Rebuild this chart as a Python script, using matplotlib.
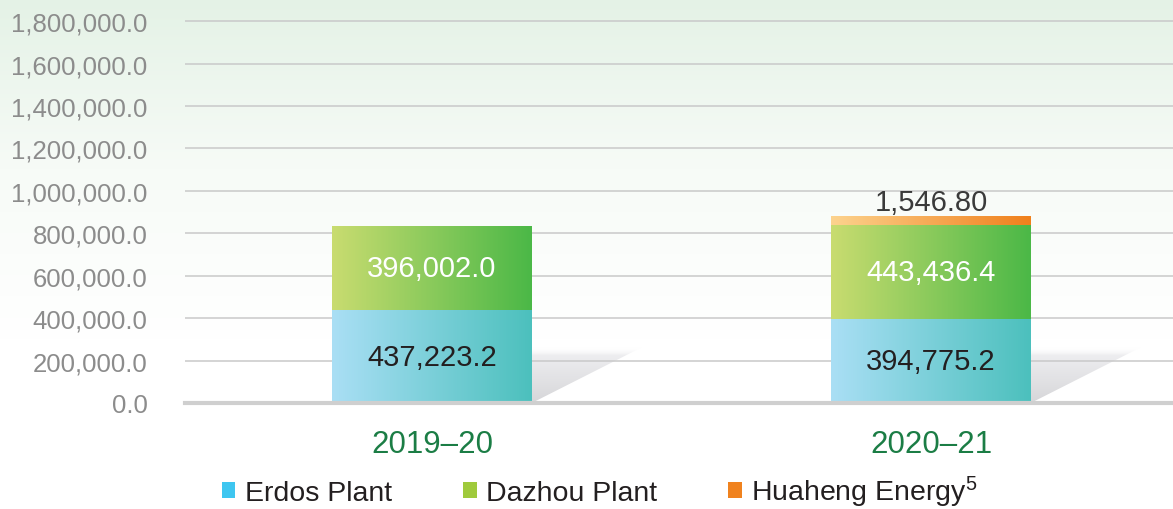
import numpy as np
import matplotlib
matplotlib.use("Agg")
import matplotlib.pyplot as plt
from matplotlib.patches import Patch, Polygon
from matplotlib.colors import LinearSegmentedColormap

plt.rcParams['font.family'] = ['Liberation Sans', 'DejaVu Sans']
plt.rcParams['mathtext.fontset'] = 'custom'
plt.rcParams['mathtext.rm'] = 'Liberation Sans'
plt.rcParams['mathtext.it'] = 'Liberation Sans'

# data
years = ["2019–20", "2020–21"]
erdos = [437223.2, 394775.2]
dazhou = [396002.0, 443436.4]
huaheng = [0.0, 1546.80]
series_names = ["Erdos Plant", "Dazhou Plant", "Huaheng Energy$^5$"]
yticks = [0, 200000, 400000, 600000, 800000, 1000000, 1200000, 1400000, 1600000, 1800000]

# the tiny Huaheng slice is drawn with a minimum height so it stays visible (as in the original)
min_visible = 42000

grad_erdos = LinearSegmentedColormap.from_list("e", ["#aadff5", "#4cc0bd"])
grad_dazhou = LinearSegmentedColormap.from_list("d", ["#c9dc70", "#4bb847"])
grad_huaheng = LinearSegmentedColormap.from_list("h", ["#fdd38e", "#f0801c"])
legend_cols = ["#3ec6f0", "#9fca3c", "#f0821e"]

fig = plt.figure(figsize=(11.73, 5.10), dpi=100)

# background gradient: pale green at the top fading to white
bg = fig.add_axes([0, 0, 1, 1], zorder=-10)
g = np.linspace(0, 1, 256).reshape(-1, 1)
bgcmap = LinearSegmentedColormap.from_list("bg", ["#ffffff", "#ffffff", "#f7fbf7", "#e4f2e6"])
bg.imshow(g, cmap=bgcmap, aspect='auto', extent=[0, 1, 0, 1], origin='lower')
bg.axis('off')

ax = fig.add_axes([185 / 1173, 1 - 404 / 510, 1 - 185 / 1173, 403 / 510])
ax.patch.set_alpha(0)
x = np.arange(len(years))
width = 0.4

hgrad = np.linspace(0, 1, 256).reshape(1, -1)


def grad_bars(xs, heights, bottoms, cmap):
    bars = ax.bar(xs, heights, width, bottom=bottoms, color='none', zorder=3)
    for b in bars:
        if b.get_height() <= 0:
            continue
        x0, y0 = b.get_x(), b.get_y()
        im = ax.imshow(hgrad, cmap=cmap, aspect='auto', zorder=3,
                       extent=[x0, x0 + b.get_width(), y0, y0 + b.get_height()])
        im.set_clip_path(b)
    return bars


# shadows behind bars
shadow_cmap = LinearSegmentedColormap.from_list(
    "s", [(0, (0.84, 0.84, 0.85, 1)), (0.85, (0.93, 0.93, 0.94, 1)), (1, (1, 1, 1, 0))])
sh_w, sh_h = 0.22, 262000
for xi in x:
    r = xi + width / 2
    poly = Polygon([(r, 0), (r + sh_w, sh_h), (r, sh_h)], closed=True,
                   facecolor='none', edgecolor='none')
    ax.add_patch(poly)
    im = ax.imshow(np.linspace(0, 1, 256).reshape(-1, 1), cmap=shadow_cmap, aspect='auto',
                   origin='lower', extent=[r, r + sh_w, 0, sh_h], zorder=0.5)
    im.set_clip_path(poly)

huaheng_draw = [max(v, min_visible) if v > 0 else 0 for v in huaheng]
bottom2 = [a + b for a, b in zip(erdos, dazhou)]
grad_bars(x, erdos, 0, grad_erdos)
grad_bars(x, dazhou, erdos, grad_dazhou)
grad_bars(x, huaheng_draw, bottom2, grad_huaheng)
ax.set_xlim(-0.495, 1.485)
ax.set_ylim(0, 1900000)

for i in range(len(years)):
    ax.text(x[i], erdos[i] / 2, f"{erdos[i]:,.1f}", ha='center', va='center',
            fontsize=21, color='#231f20', zorder=5)
    ax.text(x[i], erdos[i] + dazhou[i] / 2, f"{dazhou[i]:,.1f}", ha='center', va='center',
            fontsize=21, color='white', zorder=5)
    if huaheng[i] > 0:
        ax.text(x[i], bottom2[i] + huaheng_draw[i], f"{huaheng[i]:,.2f}", ha='center',
                va='bottom', fontsize=21, color='#3a3a3a', zorder=5)

ax.set_yticks(yticks)
ax.set_yticklabels([f"{t:,.1f}" for t in yticks], fontsize=18.5, color='#8c8c8c')
ax.tick_params(axis='y', length=0, pad=27)
ax.set_xticks(x)
ax.set_xticklabels(years, fontsize=22.5, color='#1b7d45')
ax.tick_params(axis='x', length=0, pad=19)
for t in yticks[1:]:
    ax.axhline(t, color='#c9c9c9', lw=1.1, zorder=1)
ax.axhline(0, color='#cfcfcf', lw=3, zorder=4, clip_on=False)
for s in ax.spines.values():
    s.set_visible(False)

handles = [Patch(facecolor=c, edgecolor='none') for c in legend_cols]
fig.legend(handles, series_names, loc='center left', bbox_to_anchor=(196 / 1173, 1 - 492 / 510),
           ncol=3, frameon=False, fontsize=20.5, handlelength=0.48, handleheight=0.5,
           handletextpad=0.33, columnspacing=2.5, labelcolor='#231f20')

fig.savefig("out.png", dpi=100)
